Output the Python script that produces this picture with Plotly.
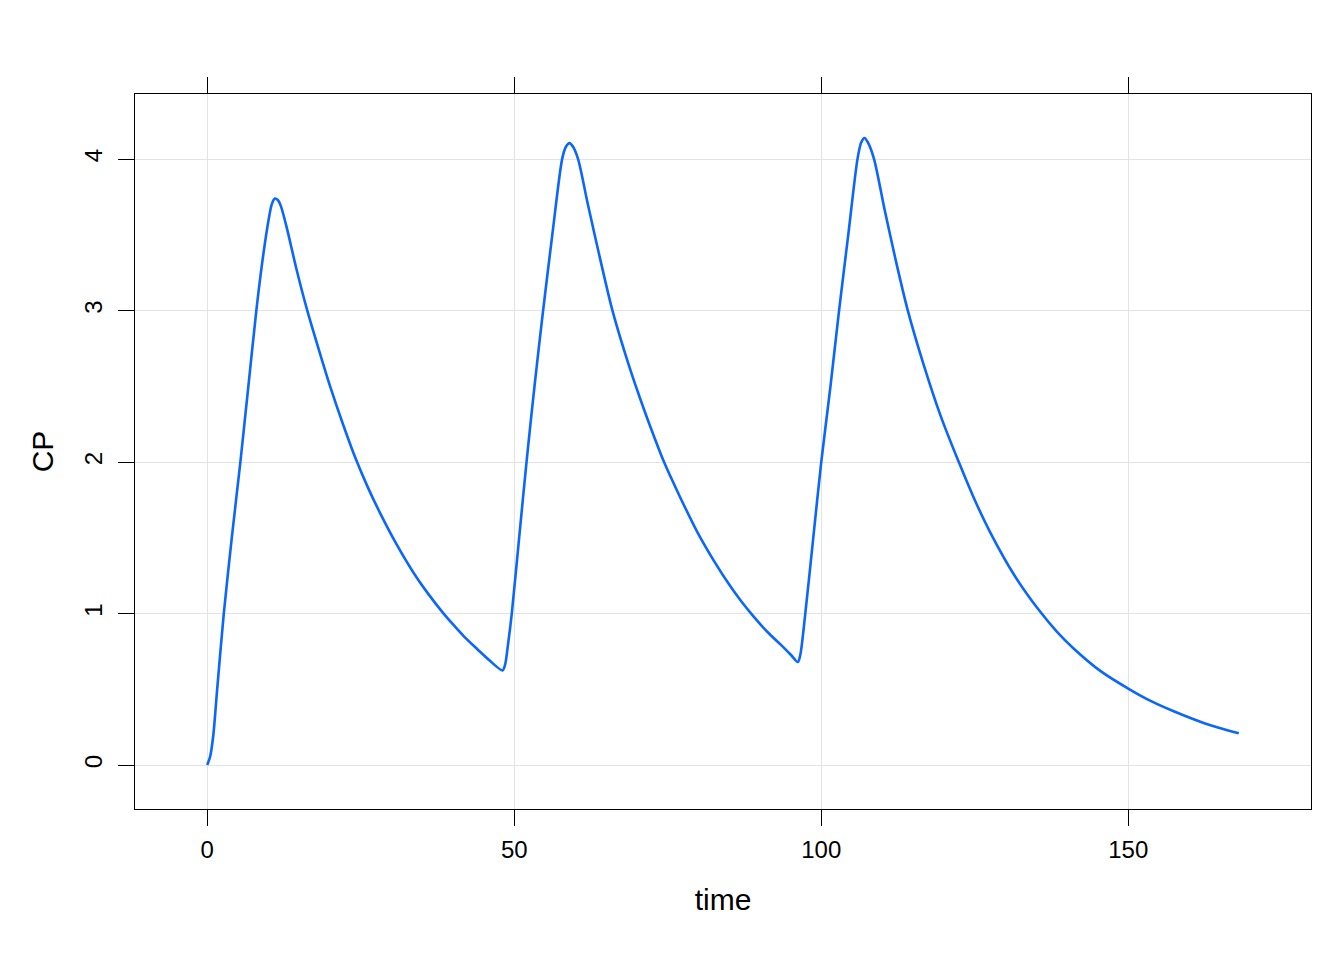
import plotly.graph_objects as go

# time (h) and concentration CP
time = [0, 0.5, 1.0, 1.6, 2.7, 4.0, 5.4, 6.7, 8.0, 9.0, 10.0, 10.5, 11.0, 11.5, 12.0, 13.0,
        14.5, 16.3, 18.2, 20.1, 22.2, 24.2, 26.2, 28.2, 30.8, 33.6, 36.0, 38.3, 40.0, 41.8,
        44.0, 46.0, 48.1,
        48.5, 49.0, 49.6, 50.8, 52.0, 53.3, 54.7, 56.2, 57.8, 58.4, 59.0, 59.6, 60.4, 62.0,
        64.0, 66.0, 68.9, 70.5, 72.2, 74.4, 77.0, 79.8, 82.5, 85.2, 87.0, 89.0, 91.2, 93.4,
        95.0, 96.2,
        96.6, 97.4, 98.7, 100.0, 101.5, 102.9, 104.4, 105.9, 106.5, 107.05, 107.6, 108.6,
        110.3, 112.2, 114.1, 116.7, 119.4, 122.4, 125.0, 127.6, 131.5, 135.7, 138.4, 141.1,
        145.5, 150.2, 153.8, 157.4, 162.5, 168.0]
CP = [0, 0.06, 0.2, 0.49, 1.0, 1.5, 2.0, 2.5, 3.0, 3.33, 3.60, 3.70, 3.74, 3.73, 3.69, 3.54,
      3.28, 3.0, 2.74, 2.49, 2.24, 2.02, 1.83, 1.66, 1.46, 1.27, 1.13, 1.01, 0.93, 0.85,
      0.765, 0.69, 0.625,
      0.66, 0.8, 1.0, 1.5, 2.0, 2.5, 3.0, 3.5, 4.0, 4.08, 4.106, 4.08, 4.0, 3.70,
      3.34, 3.0, 2.61, 2.42, 2.23, 2.0, 1.77, 1.54, 1.35, 1.18, 1.08, 0.98, 0.88, 0.795,
      0.73, 0.68,
      0.73, 1.0, 1.5, 2.0, 2.5, 3.0, 3.5, 4.0, 4.11, 4.14, 4.11, 4.0,
      3.67, 3.32, 3.0, 2.64, 2.31, 2.0, 1.75, 1.53, 1.25, 1.01, 0.88, 0.77,
      0.62, 0.50, 0.42, 0.355, 0.275, 0.21]

x_ticks = [0, 50, 100, 150]
y_ticks = [0, 1, 2, 3, 4]

fig = go.Figure()
fig.add_trace(go.Scatter(x=time, y=CP, mode="lines",
                         line=dict(color="#0A66FF", width=2.6, shape="spline", smoothing=0.8),
                         showlegend=False))

font = "Liberation Sans, Arial, Helvetica, sans-serif"
axis_common = dict(showline=True, linecolor="black", linewidth=1,
                   ticks="outside", ticklen=16, tickwidth=1, tickcolor="black",
                   showgrid=True, gridcolor="#E3E3E3", gridwidth=1, zeroline=False,
                   tickfont=dict(family=font, size=24, color="black"))

fig.update_layout(
    width=1336, height=952,
    paper_bgcolor="white", plot_bgcolor="white",
    margin=dict(l=127, r=33, t=86, b=151),
    xaxis=dict(range=[-11.76, 179.76], tickvals=x_ticks, mirror="ticks",
               title=dict(text="time", font=dict(family=font, size=30, color="black"), standoff=27),
               ticklabelstandoff=3, **axis_common),
    yaxis=dict(range=[-0.29, 4.43], tickvals=y_ticks, mirror=True, tickangle=-90,
               title=dict(text="CP", font=dict(family=font, size=30, color="black"), standoff=17),
               ticklabelstandoff=6, **axis_common),
)

fig.write_html("out.html")
